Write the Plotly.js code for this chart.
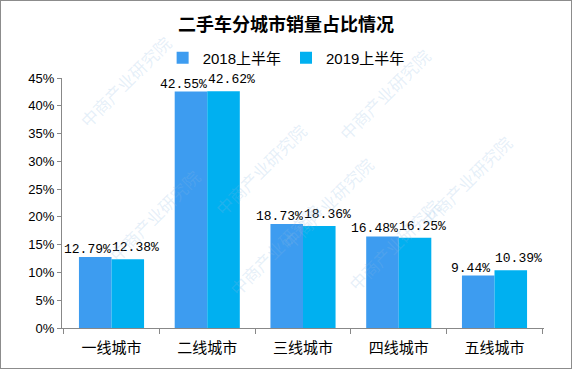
<!DOCTYPE html>
<html><head><meta charset="utf-8">
<script src="https://cdn.plot.ly/plotly-3.0.1.min.js"></script>
<style>
html,body{margin:0;padding:0;background:#fff;}
#chart{width:572px;height:369px;box-sizing:border-box;border:1px solid #8c8c8c;}
</style></head>
<body><div id="chart"></div>
<script>
const categories = ["一线城市","二线城市","三线城市","四线城市","五线城市"];
const series2018 = [12.79, 42.55, 18.73, 16.48, 9.44];
const series2019 = [12.38, 42.62, 18.36, 16.25, 10.39];
const seriesNames = ["2018上半年","2019上半年"];
const yTickVals = [0,5,10,15,20,25,30,35,40,45];
const yTickText = yTickVals.map(v => v + "%");

const labelFont = {family: "Liberation Mono, DejaVu Sans Mono, monospace", size: 13, color: "#000"};
const traces = [
  {type:"bar", name: seriesNames[0], x: categories, y: series2018,
   marker:{color:"#3d9cf0"}, hoverinfo:"none"},
  {type:"bar", name: seriesNames[1], x: categories, y: series2019,
   marker:{color:"#00b0f0"}, hoverinfo:"none"}
];

// value labels, anchored to data through the axes
const anns = [];
categories.forEach((c, i) => {
  anns.push({x: c, y: series2018[i], xref: "x", yref: "y", text: series2018[i].toFixed(2) + "%",
    showarrow: false, yanchor: "bottom", xshift: -24, yshift: -2, font: labelFont});
  anns.push({x: c, y: series2019[i], xref: "x", yref: "y", text: series2019[i].toFixed(2) + "%",
    showarrow: false, yanchor: "bottom", xshift: 24, yshift: 2, font: labelFont});
});

// watermark annotations
const wmPos = [[0.02,1.2],[0.78,1.15],[0.3,0.85],[0.95,0.8],[0.08,0.45],[0.55,0.5],[0.33,0.1],[0.8,0.12]];
wmPos.forEach(p => anns.push({xref:"paper", yref:"paper", x:p[0], y:p[1], text:"中商产业研究院", showarrow:false,
  textangle:-45, font:{family:"Noto Sans CJK SC", size:17, color:"rgba(140,185,225,0.22)"}}));

const layout = {
  width: 570, height: 367,
  margin: {l: 61, r: 27, t: 77, b: 40},
  paper_bgcolor: "#fff", plot_bgcolor: "#fff",
  title: {text: "<b>二手车分城市销量占比情况</b>", x: 0.5, xanchor: "center", y: 0.935, yanchor: "middle",
    font: {family: "Noto Sans CJK SC", size: 18, color: "#000"}},
  showlegend: true,
  legend: {orientation: "h", x: 0.465, xanchor: "center", y: 1.08, yanchor: "middle",
    font: {family: "Liberation Sans, Noto Sans CJK SC", size: 15, color: "#000"},
    itemwidth: 30, traceorder: "normal"},
  barmode: "group", bargap: 0.32, bargroupgap: 0,
  xaxis: {showline: true, linecolor: "#888", linewidth: 1, ticks: "outside", tickson: "boundaries",
    ticklen: 5, tickcolor: "#888", showgrid: false, ticklabelstandoff: 6,
    tickfont: {family: "Noto Sans CJK SC", size: 15, color: "#000"}},
  yaxis: {range: [0, 45], tickvals: yTickVals, ticktext: yTickText, showline: true, linecolor: "#888",
    ticks: "outside", ticklen: 4, tickcolor: "#888", showgrid: false, zeroline: false,
    tickfont: {family: "Liberation Sans", size: 13, color: "#000"}},
  annotations: anns
};
Plotly.newPlot("chart", traces, layout, {displayModeBar: false, staticPlot: true});
</script></body></html>
